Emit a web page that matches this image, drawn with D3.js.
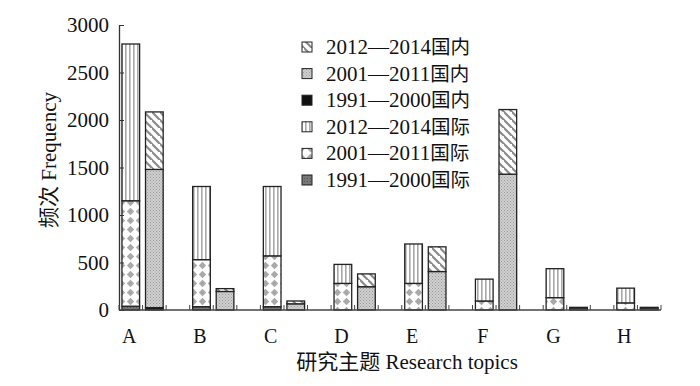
<!DOCTYPE html>
<html>
<head>
<meta charset="utf-8">
<script src="https://cdn.jsdelivr.net/npm/d3@7/dist/d3.min.js"></script>
<style>
  html, body { margin: 0; padding: 0; background: #fff; }
  svg { display: block; }
</style>
</head>
<body>
<svg id="chart" width="700" height="386"></svg>
<script>
// ---- data ----
const categories = ["A", "B", "C", "D", "E", "F", "G", "H"];
const intl1991 = [40, 35, 35, 0, 0, 0, 0, 0];
const intl2001 = [1110, 495, 535, 280, 280, 95, 130, 75];
const intl2012 = [1650, 770, 730, 200, 415, 230, 305, 155];
const dom1991 = [25, 0, 0, 0, 0, 0, 0, 0];
const dom2001 = [1455, 195, 65, 245, 405, 1430, 20, 20];
const dom2012 = [605, 30, 30, 135, 260, 680, 8, 8];
const yTicks = [0, 500, 1000, 1500, 2000, 2500, 3000];
const legendLabels = ["2012\u20142014国内", "2001\u20142011国内", "1991\u20142000国内",
                      "2012\u20142014国际", "2001\u20142011国际", "1991\u20142000国际"];
const legendKeys = ["dom2012", "dom2001", "dom1991", "intl2012", "intl2001", "intl1991"];
const yTitle = "频次 Frequency";
const xTitle = "研究主题 Research topics";

const LATIN = "'Liberation Serif', 'Times New Roman', serif";
const CJK = "'Noto Sans CJK SC', sans-serif";

function richText(sel, str, cjkSize) {
  sel.text(null);
  const runs = str.match(/[\u3400-\u9fff]+|[^\u3400-\u9fff]+/g) || [];
  runs.forEach(r => {
    const isCJK = /[\u3400-\u9fff]/.test(r);
    const t = sel.append("tspan").style("font-family", isCJK ? CJK : LATIN).text(r);
    if (isCJK && cjkSize) t.style("font-size", cjkSize);
  });
  return sel;
}

// ---- layout ----
const svg = d3.select("#chart");
const x0 = 119, x1 = 661, yBase = 310, yTop = 25;

const slots = [];
categories.forEach((c, i) => {
  slots.push(c + "-intl", c + "-dom");
  if (i < categories.length - 1) slots.push(c + "-gap");
});
const x = d3.scaleBand().domain(slots).range([x0, x1]).padding(0);
const y = d3.scaleLinear().domain([0, 3000]).range([yBase, yTop]);
const bw = x.bandwidth();
const barW = bw * 0.75;

// ---- patterns ----
const defs = svg.append("defs");
function pat(id, w, h) {
  return defs.append("pattern").attr("id", id).attr("patternUnits", "userSpaceOnUse")
    .attr("width", w).attr("height", h);
}
{
  const p = pat("p-dom2012", 8, 8);
  p.append("rect").attr("width", 8).attr("height", 8).attr("fill", "#fff");
  p.append("path").attr("d", "M-2,-2 L10,10 M-6,2 L2,10 M6,-6 L14,2")
    .attr("stroke", "#8a8a8a").attr("stroke-width", 2.2);
}
{
  const p = pat("p-dom2001", 3, 3);
  p.append("rect").attr("width", 3).attr("height", 3).attr("fill", "#cfcfcf");
  p.append("rect").attr("x", 0).attr("y", 0).attr("width", 1).attr("height", 1).attr("fill", "#9a9a9a");
  p.append("rect").attr("x", 1.5).attr("y", 1.5).attr("width", 1).attr("height", 1).attr("fill", "#a5a5a5");
}
{
  const p = pat("p-dom1991", 4, 4);
  p.append("rect").attr("width", 4).attr("height", 4).attr("fill", "#111");
}
{
  const p = pat("p-intl2012", 4, 4);
  p.append("rect").attr("width", 4).attr("height", 4).attr("fill", "#fff");
  p.append("rect").attr("x", 1).attr("width", 1.6).attr("height", 4).attr("fill", "#a8a8a8");
}
{
  const p = pat("p-intl2001", 9, 9);
  p.append("rect").attr("width", 9).attr("height", 9).attr("fill", "#fff");
  p.append("path").attr("d", "M4.5,0.8 L8.2,4.5 L4.5,8.2 L0.8,4.5 Z").attr("fill", "#a9a9a9");
}
{
  const p = pat("p-intl1991", 3, 3);
  p.append("rect").attr("width", 3).attr("height", 3).attr("fill", "#777");
  p.append("rect").attr("x", 1).attr("y", 1).attr("width", 1).attr("height", 1).attr("fill", "#555");
}

// ---- stacks ----
const intlRows = categories.map((c, i) => ({ cat: c, intl1991: intl1991[i], intl2001: intl2001[i], intl2012: intl2012[i] }));
const domRows = categories.map((c, i) => ({ cat: c, dom1991: dom1991[i], dom2001: dom2001[i], dom2012: dom2012[i] }));
const intlStack = d3.stack().keys(["intl1991", "intl2001", "intl2012"])(intlRows);
const domStack = d3.stack().keys(["dom1991", "dom2001", "dom2012"])(domRows);

const plot = svg.append("g");
function drawStack(stack, suffix) {
  stack.forEach(layer => {
    plot.append("g").selectAll("rect").data(layer).join("rect")
      .attr("x", d => x(d.data.cat + suffix) + (bw - barW) / 2)
      .attr("width", barW)
      .attr("y", d => y(d[1]))
      .attr("height", d => Math.max(0, y(d[0]) - y(d[1])))
      .attr("fill", "url(#p-" + layer.key + ")")
      .attr("stroke", d => (d[1] - d[0]) > 0 ? "#222" : "none")
      .attr("stroke-width", 1.3);
  });
}
drawStack(intlStack, "-intl");
drawStack(domStack, "-dom");

// ---- axes ----
const yAxis = d3.axisLeft(y).tickValues(yTicks).tickSizeInner(-5).tickSizeOuter(0).tickPadding(10)
  .tickFormat(d3.format("d"));
const gy = svg.append("g").attr("transform", `translate(${x0},0)`).call(yAxis);
gy.attr("font-family", null).attr("font-size", null);
gy.select(".domain").attr("stroke", "#333").attr("stroke-width", 1.3);
gy.selectAll(".tick line").attr("stroke", "#333");
gy.selectAll(".tick text").style("font-family", LATIN).style("font-size", "21px").attr("fill", "#111");

svg.append("line").attr("x1", x0).attr("x2", x1).attr("y1", yBase).attr("y2", yBase)
  .attr("stroke", "#444").attr("stroke-width", 1.3);
const bounds = slots.map(s => x(s)).concat([x1]);
svg.append("g").selectAll("line").data(bounds).join("line")
  .attr("x1", d => d).attr("x2", d => d).attr("y1", yBase).attr("y2", yBase - 5)
  .attr("stroke", "#444").attr("stroke-width", 1);

svg.append("g").selectAll("text").data(categories).join("text")
  .attr("x", d => x(d + "-intl") + bw / 2 - 1.5)
  .attr("y", 343)
  .attr("text-anchor", "middle")
  .style("font-family", LATIN).style("font-size", "20px").attr("fill", "#111")
  .text(d => d);

richText(svg.append("text").attr("transform", "translate(56,160) rotate(-90)")
  .attr("text-anchor", "middle").style("font-size", "21px").attr("fill", "#111"), yTitle);
richText(svg.append("text").attr("x", 407).attr("y", 369)
  .attr("text-anchor", "middle").style("font-size", "21px").attr("fill", "#111"), xTitle);

// ---- legend ----
const lg = svg.append("g");
legendKeys.forEach((k, i) => {
  const cy = 47 + i * 26.6;
  lg.append("rect").attr("x", 302).attr("y", cy - 5).attr("width", 10).attr("height", 10)
    .attr("fill", "url(#p-" + k + ")").attr("stroke", "#222").attr("stroke-width", 1);
  richText(lg.append("text").attr("x", 326).attr("y", cy + 7)
    .style("font-size", "21px").attr("fill", "#111"), legendLabels[i], "19.5px");
});
</script>
</body>
</html>
